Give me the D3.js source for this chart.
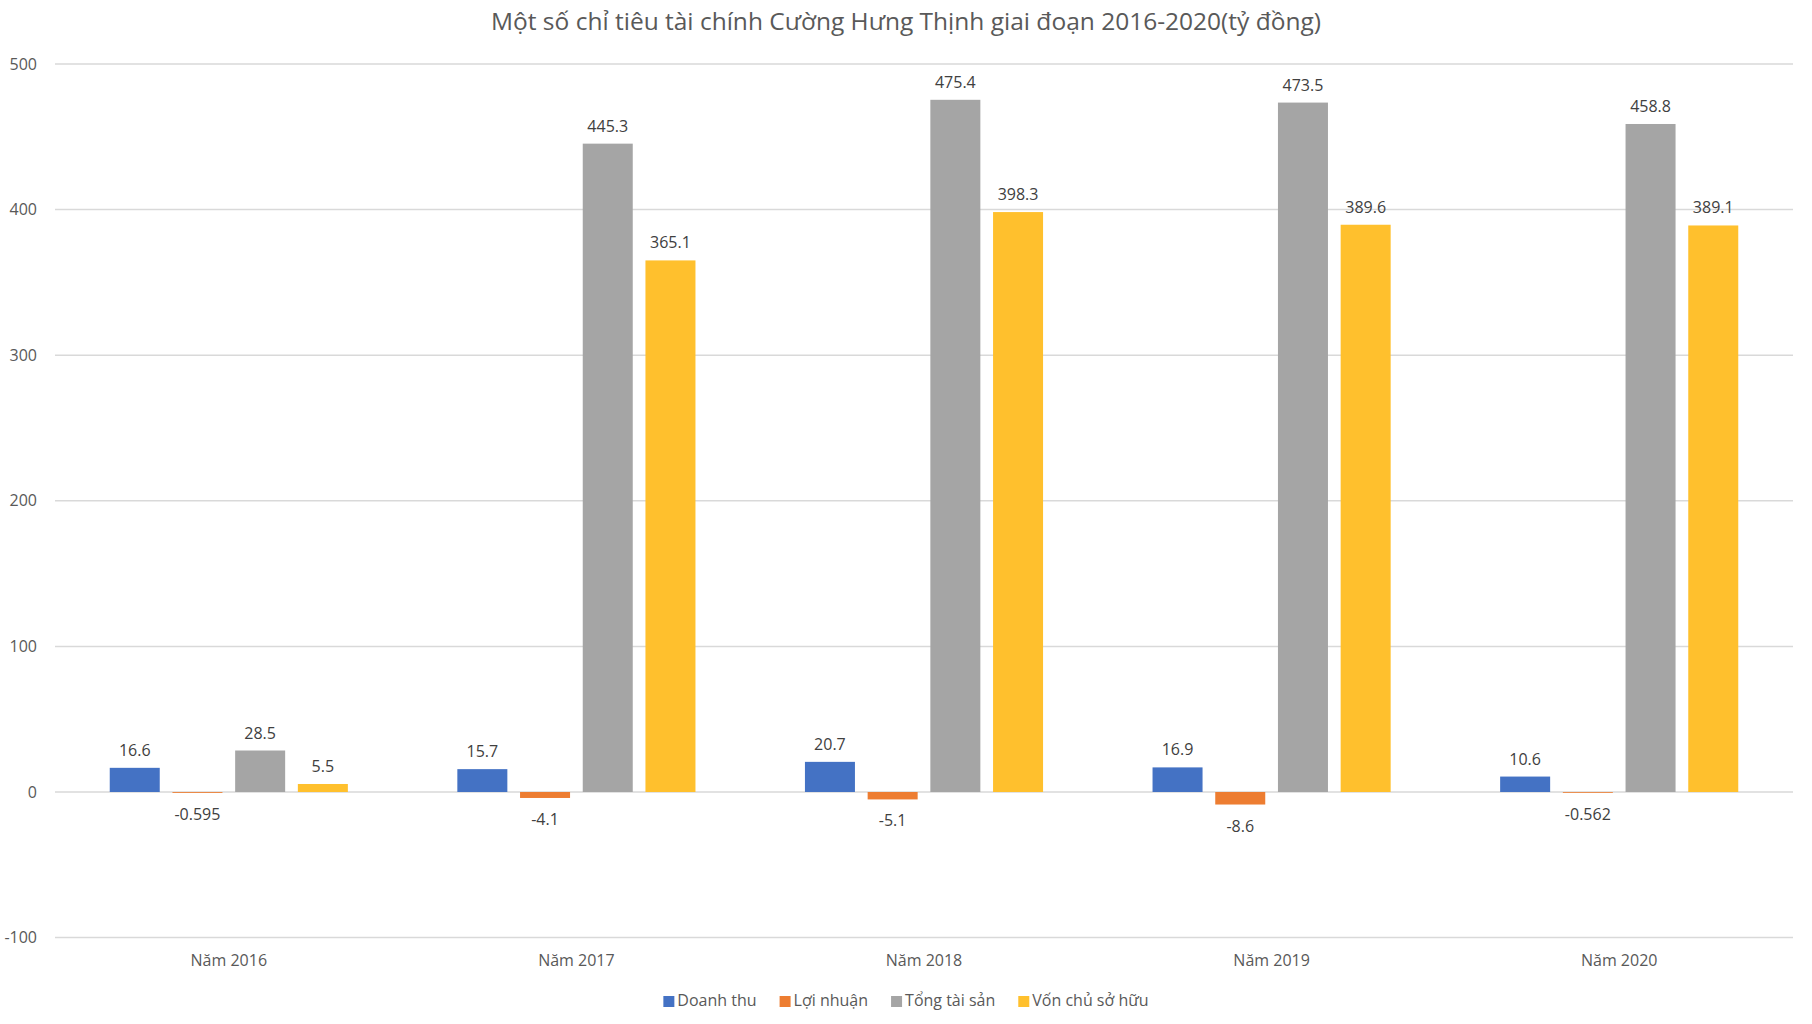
<!DOCTYPE html>
<html>
<head>
<meta charset="utf-8">
<script src="https://d3js.org/d3.v7.min.js"></script>
<style>
  body { margin: 0; background: #fff; }
  text { font-family: "Open Sans", sans-serif; }
</style>
</head>
<body>
<div id="chart"></div>
<script>
// data
var years = ["Năm 2016", "Năm 2017", "Năm 2018", "Năm 2019", "Năm 2020"];
var seriesNames = ["Doanh thu", "Lợi nhuận", "Tổng tài sản", "Vốn chủ sở hữu"];
var doanhThu = [16.6, 15.7, 20.7, 16.9, 10.6];
var loiNhuan = [-0.595, -4.1, -5.1, -8.6, -0.562];
var tongTaiSan = [28.5, 445.3, 475.4, 473.5, 458.8];
var vonChuSoHuu = [5.5, 365.1, 398.3, 389.6, 389.1];
var yTicks = [-100, 0, 100, 200, 300, 400, 500];
var colors = ["#4472C4", "#ED7D31", "#A5A5A5", "#FFC02D"];

var seriesValues = [doanhThu, loiNhuan, tongTaiSan, vonChuSoHuu];

var W = 1812, H = 1024;
var plotLeft = 55, plotRight = 1793;

var svg = d3.select("#chart")
  .append("svg")
    .attr("width", W)
    .attr("height", H);

var x0 = d3.scaleBand()
  .domain(years)
  .range([plotLeft, plotRight])
  .padding(0);

var x1 = d3.scaleBand()
  .domain(seriesNames)
  .range([0, x0.bandwidth()])
  .paddingInner(0.2025)
  .paddingOuter(0.873);

var y = d3.scaleLinear()
  .domain([-100, 500])
  .range([937.6, 64]);

// title
svg.append("text")
  .attr("x", W / 2)
  .attr("y", 30)
  .attr("text-anchor", "middle")
  .attr("font-size", "24.5px")
  .attr("fill", "#595959")
  .text("Một số chỉ tiêu tài chính Cường Hưng Thịnh giai đoạn 2016-2020(tỷ đồng)");

// gridlines
svg.append("g")
  .selectAll("line")
  .data(yTicks)
  .join("line")
    .attr("x1", plotLeft)
    .attr("x2", plotRight)
    .attr("y1", function(d) { return y(d); })
    .attr("y2", function(d) { return y(d); })
    .attr("stroke", "#D9D9D9")
    .attr("stroke-width", 1.5);

// y axis labels
svg.append("g")
  .selectAll("text")
  .data(yTicks)
  .join("text")
    .attr("x", 37)
    .attr("y", function(d) { return y(d); })
    .attr("dy", "0.35em")
    .attr("text-anchor", "end")
    .attr("font-size", "16px")
    .attr("fill", "#595959")
    .text(function(d) { return d; });

// bars
var rows = [];
years.forEach(function(yr, i) {
  seriesNames.forEach(function(s, j) {
    rows.push({year: yr, series: s, idx: j, value: seriesValues[j][i]});
  });
});

var groups = svg.append("g");

groups.selectAll("rect")
  .data(rows)
  .join("rect")
    .attr("x", function(d) { return x0(d.year) + x1(d.series); })
    .attr("width", x1.bandwidth())
    .attr("y", function(d) { return y(Math.max(0, d.value)); })
    .attr("height", function(d) { return Math.abs(y(d.value) - y(0)); })
    .attr("fill", function(d) { return colors[d.idx]; });

// data labels
groups.selectAll("text")
  .data(rows)
  .join("text")
    .attr("x", function(d) { return x0(d.year) + x1(d.series) + x1.bandwidth() / 2; })
    .attr("y", function(d) {
      return d.value >= 0 ? y(d.value) - 12 : y(d.value) + 27;
    })
    .attr("text-anchor", "middle")
    .attr("font-size", "16px")
    .attr("fill", "#404040")
    .text(function(d) { return String(d.value); });

// category labels
svg.append("g")
  .selectAll("text")
  .data(years)
  .join("text")
    .attr("x", function(d) { return x0(d) + x0.bandwidth() / 2; })
    .attr("y", 966)
    .attr("text-anchor", "middle")
    .attr("font-size", "16px")
    .attr("fill", "#595959")
    .text(function(d) { return d; });

// legend
var legend = svg.append("g");
var lx = 0;
seriesNames.forEach(function(s, i) {
  var g = legend.append("g");
  g.append("rect")
    .attr("x", 0)
    .attr("y", -10)
    .attr("width", 11)
    .attr("height", 11)
    .attr("fill", colors[i]);
  var t = g.append("text")
    .attr("x", 14)
    .attr("y", 0)
    .attr("font-size", "16px")
    .attr("fill", "#595959")
    .text(s);
  var w = 14 + t.node().getComputedTextLength();
  g.attr("transform", "translate(" + lx + ",0)");
  lx += w + 23;
});
lx -= 23;
legend.attr("transform", "translate(" + (W / 2 - lx / 2) + ",1006)");
</script>
</body>
</html>
